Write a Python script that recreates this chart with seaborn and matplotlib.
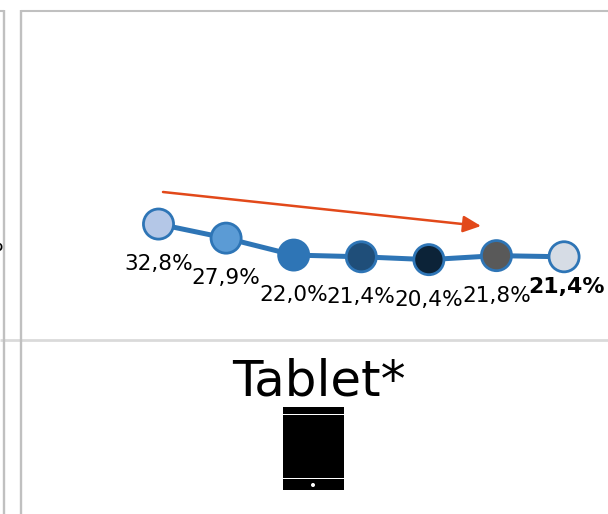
import matplotlib
matplotlib.use("Agg")
import matplotlib.pyplot as plt
import matplotlib.patches as mpatches
import pandas as pd
import seaborn as sns

sns.set_theme(style="white")

LINE_BLUE = "#2E75B6"
ORANGE = "#E2491A"
FRAME = "#C0C0C0"
SEPARATOR = "#DADADA"

periods = ["P1", "P2", "P3", "P4", "P5", "P6", "P7"]
shares = [32.8, 27.9, 22.0, 21.4, 20.4, 21.8, 21.4]
share_labels = ["32,8%", "27,9%", "22,0%", "21,4%", "20,4%", "21,8%", "21,4%"]
fills = ["#B4C7E7", "#5B9BD5", "#2E75B6", "#1F4E79", "#0C2338", "#595959", "#D6DCE5"]

df = pd.DataFrame({"period": range(len(periods)), "share": shares, "name": periods})

fig = plt.figure(figsize=(6.08, 5.14), dpi=100, facecolor="white")

# ------------------------------------------------------------------
# pixel overlay for the panel frames, the trend arrow and the icon
# ------------------------------------------------------------------
bg = fig.add_axes([0, 0, 1, 1])
bg.set_xlim(0, 608)
bg.set_ylim(514, 0)
bg.axis("off")

bg.plot([0, 608], [340, 340], color=SEPARATOR, lw=2, solid_capstyle="butt")
bg.plot([4, 4], [10, 514], color=FRAME, lw=1.7, solid_capstyle="butt")
bg.plot([0, 4], [10.5, 10.5], color=FRAME, lw=1.5, solid_capstyle="butt")
bg.plot([21, 21], [10, 514], color=FRAME, lw=1.7, solid_capstyle="butt")
bg.plot([21, 608], [10.5, 10.5], color=FRAME, lw=1.5, solid_capstyle="butt")

bg.text(3, 245, "%", ha="right", va="center", fontsize=15.6, color="black", clip_on=True)

# tablet icon
for x0, y0, w, h in [(283, 407, 61, 6.6), (283, 414.6, 61, 63.4), (283, 479, 61, 11)]:
    bg.add_patch(mpatches.Rectangle((x0, y0), w, h, fc="black", ec="none"))
bg.add_patch(mpatches.Circle((313, 485), 2, fc="white", ec="none"))

bg.text(319, 382, "Tablet*", ha="center", va="center", fontsize=35.9, color="black")

bg.annotate("", xy=(481, 226), xytext=(163, 192),
            arrowprops=dict(arrowstyle="-|>,head_length=0.9,head_width=0.42",
                            color=ORANGE, lw=1.8, shrinkA=0, shrinkB=0))

# ------------------------------------------------------------------
# the line with one coloured marker per period
# ------------------------------------------------------------------
ax = fig.add_axes([0, 0, 1, 1])
ax.patch.set_alpha(0)
ax.set_xlim(-2.345, 6.65)
ax.set_ylim(-68.2, 110.85)
ax.axis("off")

sns.lineplot(data=df, x="period", y="share", color=LINE_BLUE, linewidth=3.6, ax=ax, legend=False)
sns.scatterplot(data=df, x="period", y="share", hue="name", palette=fills, s=470,
                edgecolor=LINE_BLUE, linewidth=2.0, ax=ax, legend=False, zorder=3)

for i, (val, lab) in enumerate(zip(shares, share_labels)):
    last = i == len(shares) - 1
    ax.annotate(lab, (i, val), xytext=(2 if last else 0, -21.5 if last else -29),
                textcoords="offset points", ha="center", va="center",
                fontsize=15.8 if last else 15.6, fontweight="bold" if last else "normal",
                color="black", annotation_clip=False)

fig.savefig("out.png", dpi=100)
